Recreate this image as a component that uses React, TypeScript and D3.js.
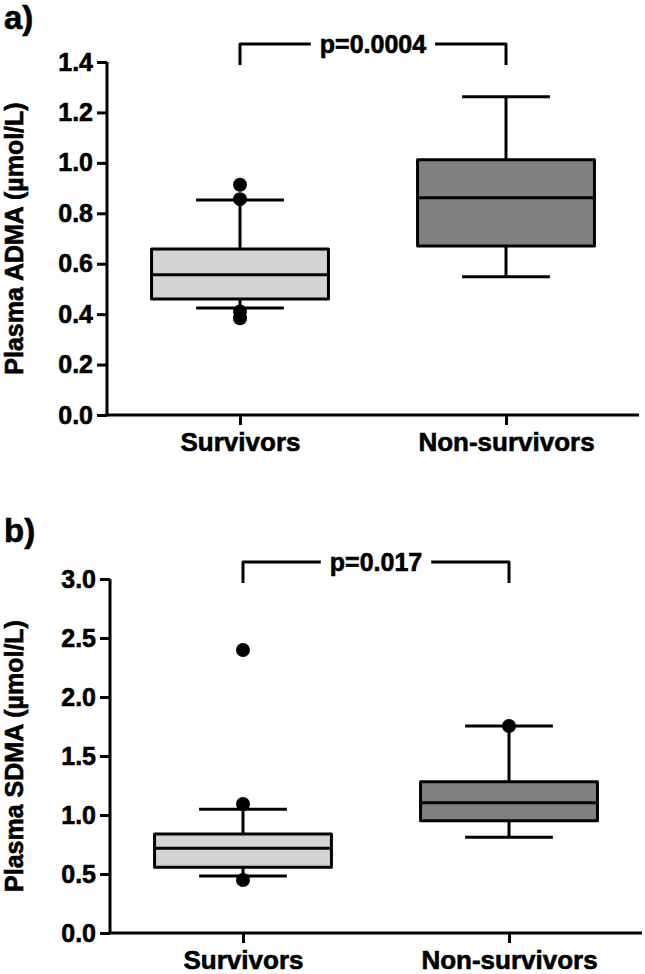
import React, { useEffect, useRef } from "react";
import * as d3 from "d3";

const categories = ["Survivors", "Non-survivors"];

// Panel a: Plasma ADMA
const admaQ1 = [0.46, 0.67];
const admaMedian = [0.556, 0.862];
const admaQ3 = [0.658, 1.012];
const admaWhiskerLow = [0.424, 0.548];
const admaWhiskerHigh = [0.853, 1.262];
const admaOutliers = [[0.913, 0.856, 0.41, 0.384], []];
const admaTicks = [0, 0.2, 0.4, 0.6, 0.8, 1.0, 1.2, 1.4];

// Panel b: Plasma SDMA
const sdmaQ1 = [0.557, 0.952];
const sdmaMedian = [0.718, 1.104];
const sdmaQ3 = [0.839, 1.282];
const sdmaWhiskerLow = [0.483, 0.811];
const sdmaWhiskerHigh = [1.048, 1.754];
const sdmaOutliers = [[2.398, 1.093, 0.449], [1.754]];
const sdmaTicks = [0, 0.5, 1.0, 1.5, 2.0, 2.5, 3.0];

const boxColors = ["#d4d4d4", "#808080"];
const FONT = "Arial, 'Liberation Sans', Helvetica, sans-serif";

type Panel = {
  label: string;
  labelY: number;
  title: string;
  pText: string;
  q1: number[];
  med: number[];
  q3: number[];
  lo: number[];
  hi: number[];
  out: number[][];
  ticks: number[];
  yMax: number;
  top: number;
  bottom: number;
  left: number;
  right: number;
  bracketY: number;
  bracketDrop: number;
};

const panels: Panel[] = [
  {
    label: "a)", labelY: 29, title: "Plasma ADMA (\u00b5mol/L)", pText: "p=0.0004",
    q1: admaQ1, med: admaMedian, q3: admaQ3, lo: admaWhiskerLow, hi: admaWhiskerHigh,
    out: admaOutliers, ticks: admaTicks, yMax: 1.4,
    top: 62, bottom: 415, left: 107, right: 639, bracketY: 44, bracketDrop: 21,
  },
  {
    label: "b)", labelY: 542, title: "Plasma SDMA (\u00b5mol/L)", pText: "p=0.017",
    q1: sdmaQ1, med: sdmaMedian, q3: sdmaQ3, lo: sdmaWhiskerLow, hi: sdmaWhiskerHigh,
    out: sdmaOutliers, ticks: sdmaTicks, yMax: 3.0,
    top: 579, bottom: 933, left: 110, right: 642, bracketY: 562, bracketDrop: 21,
  },
];

export default function App() {
  const ref = useRef<SVGSVGElement | null>(null);

  useEffect(() => {
    const svg = d3.select(ref.current);
    svg.selectAll("*").remove();
    const SW = 3;
    const TS = 0.6; // text stroke to thicken glyphs

    const styleText = (sel: any, size: number) =>
      sel.attr("font-family", FONT).attr("font-weight", "bold").attr("font-size", size)
        .attr("fill", "#000").attr("stroke", "#000").attr("stroke-width", TS);

    panels.forEach((p) => {
      const g = svg.append("g");
      const x = d3.scalePoint<string>().domain(categories).range([p.left, p.right]).padding(0.5);
      const y = d3.scaleLinear().domain([0, p.yMax]).range([p.bottom, p.top]);
      const step = x.step();
      const boxW = step * 0.665;
      const capW = step * 0.33;

      // panel label
      styleText(g.append("text").attr("x", 4).attr("y", p.labelY).text(p.label), 33);

      // y axis title
      styleText(
        g.append("text")
          .attr("transform", `translate(23,${(p.top + p.bottom) / 2}) rotate(-90)`)
          .attr("text-anchor", "middle").text(p.title),
        25
      );

      // y axis
      const yAxis = d3.axisLeft(y).tickValues(p.ticks).tickSize(10).tickPadding(4)
        .tickFormat(d3.format(".1f"));
      const ya = g.append("g").attr("transform", `translate(${p.left},0)`).call(yAxis);
      ya.select(".domain").attr("d", `M0,${p.top}V${p.bottom}`);
      ya.selectAll("path,line").attr("stroke", "#000").attr("stroke-width", SW);
      styleText(ya.selectAll("text"), 25);

      // x axis
      const xAxis = d3.axisBottom(x).tickSize(10).tickPadding(8);
      const xa = g.append("g").attr("transform", `translate(0,${p.bottom})`).call(xAxis);
      xa.select(".domain").attr("d", `M${p.left - 1.5},0H${p.right}`);
      xa.selectAll("path,line").attr("stroke", "#000").attr("stroke-width", SW);
      styleText(xa.selectAll("text"), 26);
      xa.selectAll("text").attr("dy", "0.71em");

      categories.forEach((c, i) => {
        const cx = x(c) as number;
        const bg = g.append("g").attr("stroke", "#000").attr("stroke-width", SW)
          .attr("stroke-linejoin", "round");
        // whiskers
        bg.append("line").attr("x1", cx).attr("x2", cx).attr("y1", y(p.hi[i])).attr("y2", y(p.q3[i]));
        bg.append("line").attr("x1", cx).attr("x2", cx).attr("y1", y(p.q1[i])).attr("y2", y(p.lo[i]));
        bg.append("line").attr("x1", cx - capW / 2).attr("x2", cx + capW / 2).attr("y1", y(p.hi[i])).attr("y2", y(p.hi[i]));
        bg.append("line").attr("x1", cx - capW / 2).attr("x2", cx + capW / 2).attr("y1", y(p.lo[i])).attr("y2", y(p.lo[i]));
        // box
        bg.append("rect").attr("x", cx - boxW / 2).attr("width", boxW)
          .attr("y", y(p.q3[i])).attr("height", y(p.q1[i]) - y(p.q3[i]))
          .attr("fill", boxColors[i]);
        bg.append("line").attr("x1", cx - boxW / 2).attr("x2", cx + boxW / 2)
          .attr("y1", y(p.med[i])).attr("y2", y(p.med[i]));
        // outliers
        g.selectAll(null).data(p.out[i]).enter().append("circle")
          .attr("cx", cx).attr("cy", (d: number) => y(d)).attr("r", 7).attr("fill", "#000");
      });

      // significance bracket
      const x1 = x(categories[0]) as number;
      const x2 = x(categories[1]) as number;
      const mid = (x1 + x2) / 2;
      const t = g.append("text").attr("x", mid).attr("y", p.bracketY + 8.5)
        .attr("text-anchor", "middle").text(p.pText);
      styleText(t, 25);
      const tw = (t.node() as SVGTextElement).getComputedTextLength();
      const gap = 9;
      const bk = g.append("g").attr("stroke", "#000").attr("stroke-width", SW).attr("fill", "none")
        .attr("stroke-linejoin", "round");
      bk.append("path").attr("d",
        `M${x1},${p.bracketY + p.bracketDrop}V${p.bracketY}H${mid - tw / 2 - gap}`);
      bk.append("path").attr("d",
        `M${mid + tw / 2 + gap},${p.bracketY}H${x2}V${p.bracketY + p.bracketDrop}`);
    });
  }, []);

  return (
    <svg
      ref={ref}
      width={645}
      height={974}
      style={{ position: "absolute", left: 0, top: 0, background: "#fff" }}
    />
  );
}
